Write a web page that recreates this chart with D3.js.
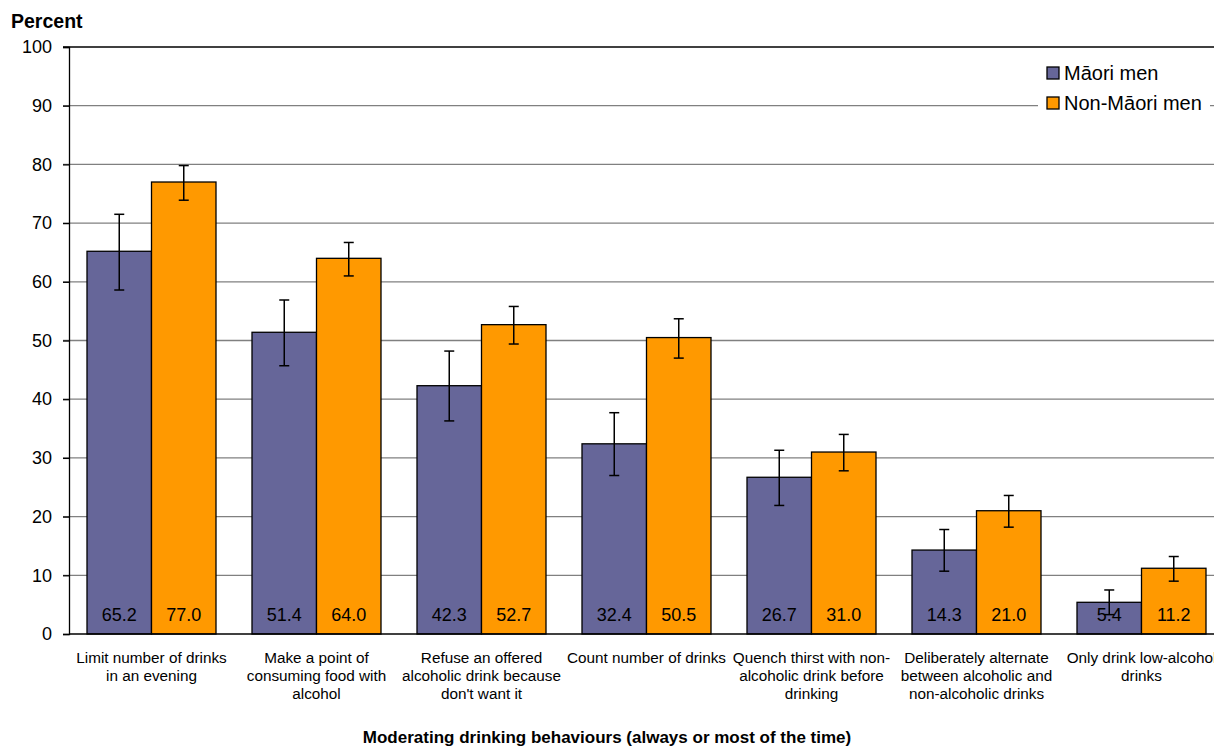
<!DOCTYPE html>
<html><head><meta charset="utf-8">
<script src="https://cdn.jsdelivr.net/npm/d3@7"></script>
<style>
html,body{margin:0;padding:0;background:#fff;overflow:hidden;}
text{font-family:"Liberation Sans",Arial,sans-serif;}
</style></head>
<body>
<svg id="chart" width="1214" height="749"></svg>
<script>
const categories = [
  ["Limit number of drinks","in an evening"],
  ["Make a point of","consuming food with","alcohol"],
  ["Refuse an offered","alcoholic drink because","don't want it"],
  ["Count number of drinks"],
  ["Quench thirst with non-","alcoholic drink before","drinking"],
  ["Deliberately alternate","between alcoholic and","non-alcoholic drinks"],
  ["Only drink low-alcohol","drinks"]
];
const seriesNames = ["Māori men","Non-Māori men"];
const maoriValues = [65.2, 51.4, 42.3, 32.4, 26.7, 14.3, 5.4];
const nonMaoriValues = [77.0, 64.0, 52.7, 50.5, 31.0, 21.0, 11.2];
const maoriLow  = [58.6, 45.7, 36.3, 27.0, 21.9, 10.7, 3.3];
const maoriHigh = [71.5, 56.9, 48.2, 37.7, 31.3, 17.8, 7.5];
const nonMaoriLow  = [73.9, 61.0, 49.4, 47.0, 27.8, 18.2, 9.0];
const nonMaoriHigh = [79.8, 66.7, 55.8, 53.7, 34.0, 23.6, 13.2];
const yTicks = [0,10,20,30,40,50,60,70,80,90,100];
const colors = ["#666699","#FF9900"];

(function(){
const svg = d3.select("#chart");
const pLeft = 69, pRight = 1224, pTop = 47, pBottom = 634;
const idx = d3.range(categories.length);
const x0 = d3.scaleBand().domain(idx).range([pLeft, pRight]).padding(0);
const x1 = d3.scaleBand().domain([0,1]).range([18, x0.bandwidth()-18]).padding(0);
const y = d3.scaleLinear().domain([0,100]).range([pBottom, pTop]);

// gridlines
svg.append("g").selectAll("line").data(yTicks.filter(d=>d>0)).join("line")
  .attr("x1", pLeft-6).attr("x2", pRight)
  .attr("y1", d=>y(d)).attr("y2", d=>y(d))
  .attr("stroke", d=> d===100 ? "#000" : "#808080").attr("stroke-width", 1.3);

// y axis
const yAxis = svg.append("g").attr("transform",`translate(${pLeft},0)`)
  .call(d3.axisLeft(y).tickValues(yTicks).tickSize(6).tickPadding(11));
yAxis.select(".domain").attr("stroke","#000").attr("stroke-width",1.3);
yAxis.selectAll(".tick line").attr("stroke","#000").attr("stroke-width",1.3);
yAxis.selectAll(".tick text").attr("font-size",18).attr("fill","#000");

const data = idx.map(i => [
  {s:0, v:maoriValues[i], lo:maoriLow[i], hi:maoriHigh[i]},
  {s:1, v:nonMaoriValues[i], lo:nonMaoriLow[i], hi:nonMaoriHigh[i]}
]);

const groups = svg.append("g").selectAll("g").data(data).join("g")
  .attr("transform",(d,i)=>`translate(${x0(i)},0)`);

groups.selectAll("rect").data(d=>d).join("rect")
  .attr("x", d=>x1(d.s)).attr("width", x1.bandwidth())
  .attr("y", d=>y(d.v)).attr("height", d=>y(0)-y(d.v))
  .attr("fill", d=>colors[d.s]).attr("stroke","#000").attr("stroke-width",1.3);

groups.selectAll("text.val").data(d=>d).join("text").attr("class","val")
  .attr("x", d=>x1(d.s)+x1.bandwidth()/2).attr("y", pBottom-13)
  .attr("text-anchor","middle").attr("font-size",18).attr("fill","#000")
  .text(d=>d.v.toFixed(1));

// error bars
const eb = groups.selectAll("g.eb").data(d=>d).join("g").attr("class","eb")
  .attr("stroke","#000").attr("stroke-width",1.5);
eb.append("line").attr("x1",d=>x1(d.s)+x1.bandwidth()/2).attr("x2",d=>x1(d.s)+x1.bandwidth()/2)
  .attr("y1",d=>y(d.lo)).attr("y2",d=>y(d.hi));
eb.append("line").attr("x1",d=>x1(d.s)+x1.bandwidth()/2-5).attr("x2",d=>x1(d.s)+x1.bandwidth()/2+5)
  .attr("y1",d=>y(d.lo)).attr("y2",d=>y(d.lo));
eb.append("line").attr("x1",d=>x1(d.s)+x1.bandwidth()/2-5).attr("x2",d=>x1(d.s)+x1.bandwidth()/2+5)
  .attr("y1",d=>y(d.hi)).attr("y2",d=>y(d.hi));

// x axis baseline
svg.append("line").attr("x1", pLeft).attr("x2", pRight).attr("y1", y(0)).attr("y2", y(0))
  .attr("stroke","#000").attr("stroke-width",1.3);

// category labels
const cl = svg.append("g").selectAll("text").data(categories).join("text")
  .attr("x",(d,i)=>x0(i)+x0.bandwidth()/2).attr("y",663)
  .attr("text-anchor","middle").attr("font-size",15.3).attr("fill","#000");
cl.selectAll("tspan").data(d=>d).join("tspan")
  .attr("x",function(){return this.parentNode.getAttribute("x");})
  .attr("dy",(d,i)=> i===0 ? 0 : 18).text(d=>d);

// titles
svg.append("text").attr("x",11).attr("y",28).attr("font-size",19.5).attr("font-weight","bold").text("Percent");
svg.append("text").attr("x",607).attr("y",743).attr("text-anchor","middle")
  .attr("font-size",17).attr("font-weight","bold")
  .text("Moderating drinking behaviours (always or most of the time)");

// legend
const lg = svg.append("g");
lg.append("rect").attr("x",1038).attr("y",58).attr("width",172).attr("height",58).attr("fill","#fff");
const li = lg.selectAll("g").data(seriesNames).join("g")
  .attr("transform",(d,i)=>`translate(1047,${67+i*30})`);
li.append("rect").attr("width",12).attr("height",12).attr("fill",(d,i)=>colors[i])
  .attr("stroke","#000").attr("stroke-width",1.3);
li.append("text").attr("x",17).attr("y",13).attr("font-size",20).attr("fill","#000").text(d=>d);
})();
</script>
</body></html>
